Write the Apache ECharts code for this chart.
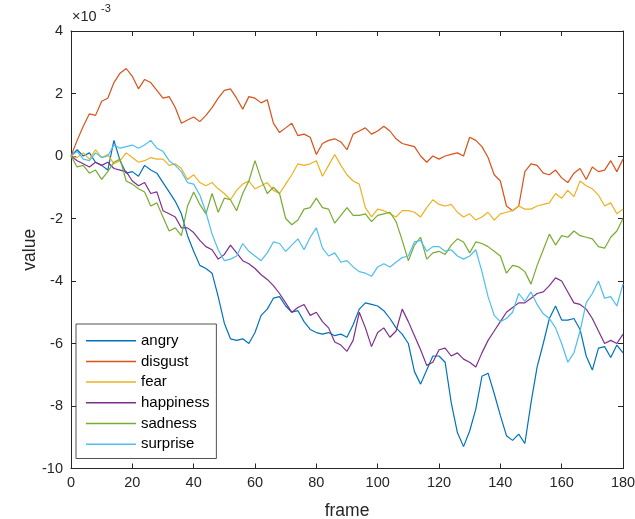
<!DOCTYPE html>
<html>
<head>
<meta charset="utf-8">
<script src="https://cdn.jsdelivr.net/npm/echarts@6/dist/echarts.min.js"></script>
<style>
html,body{margin:0;padding:0;background:#fff;}
#main{width:635px;height:519px;}
</style>
</head>
<body>
<div id="main"></div>
<script>
// values are in units of 1e-3 (axis shows x10^-3)
var names = ['angry', 'disgust', 'fear', 'happiness', 'sadness', 'surprise']
var colors = ['#0072BD', '#D95319', '#EDB120', '#7E2F8E', '#77AC30', '#4DBEEE']
var xTicks = [0, 20, 40, 60, 80, 100, 120, 140, 160, 180]
var yTicks = [-10, -8, -6, -4, -2, 0, 2, 4]

// frame numbers, read every 2 frames
var frames = []
for (var f = 0; f <= 180; f += 2) frames.push(f)

var angry = [0, 0.2, 0.0, 0.1, -0.2, -0.3, -0.45, 0.5, -0.15, -0.55,
    -0.5, -0.65, -0.3, -0.45, -0.55, -0.85, -1.15, -1.45, -1.85, -2.55,
    -3.05, -3.5, -3.6, -3.75, -4.5, -5.35, -5.85, -5.9, -5.85, -6.0,
    -5.65, -5.1, -4.9, -4.55, -4.5, -4.8, -5.0, -4.95, -5.3, -5.55,
    -5.65, -5.7, -5.65, -5.75, -5.7, -5.8, -5.4, -4.9, -4.7, -4.75,
    -4.8, -4.95, -5.2, -5.5, -5.7, -6.0, -6.9, -7.3, -6.85, -6.4,
    -6.4, -6.6, -7.9, -8.85, -9.3, -8.8, -8.1, -7.05, -6.95, -7.6,
    -8.3, -8.95, -9.1, -8.9, -9.2, -7.9, -6.75, -6.0, -5.2, -4.8,
    -5.25, -5.25, -5.2, -5.55, -6.4, -6.85, -6.15, -6.1, -6.45, -6.05,
    -6.3]
var disgust = [0, 0.5, 0.95, 1.35, 1.3, 1.75, 1.85, 2.35, 2.65, 2.8,
    2.55, 2.15, 2.45, 2.35, 2.1, 1.85, 1.9, 1.55, 1.05, 1.15,
    1.25, 1.1, 1.3, 1.55, 1.85, 2.1, 2.15, 1.85, 1.5, 1.9,
    1.85, 1.7, 1.8, 1.05, 0.75, 0.9, 1.05, 0.65, 0.7, 0.6,
    0.05, 0.4, 0.5, 0.55, 0.45, 0.2, 0.7, 0.8, 0.9, 0.7,
    0.8, 0.95, 0.8, 0.55, 0.4, 0.35, 0.3, 0.0, -0.2, 0.0,
    -0.1, 0.0, 0.05, 0.1, 0.0, 0.6, 0.5, 0.3, -0.05, -0.6,
    -0.8, -1.6, -1.75, -1.6, -0.5, -0.25, -0.3, -0.55, -0.6, -0.45,
    -0.7, -0.85, -0.55, -0.4, -0.75, -0.35, -0.5, -0.45, -0.15, -0.5,
    -0.1]
var fear = [0, -0.05, 0.1, -0.1, 0.2, -0.05, 0.05, -0.25, -0.15, 0.1,
    -0.05, -0.2, -0.15, -0.05, -0.1, -0.1, -0.3, -0.25, -0.4, -0.75,
    -0.6, -0.85, -0.95, -0.85, -1.05, -1.2, -1.4, -1.1, -0.9, -0.8,
    -1.05, -0.95, -0.85, -1.1, -1.2, -0.9, -0.6, -0.25, -0.3, -0.25,
    -0.15, -0.65, -0.3, 0.05, -0.3, -0.6, -0.8, -0.9, -1.65, -1.95,
    -1.7, -1.75, -1.85, -1.95, -1.75, -1.75, -1.8, -1.95, -1.65, -1.4,
    -1.55, -1.6, -1.55, -1.8, -1.95, -1.85, -2.05, -1.95, -1.8, -2.05,
    -1.85, -1.8, -1.75, -1.6, -1.7, -1.7, -1.6, -1.55, -1.5, -1.2,
    -1.35, -1.1, -1.3, -0.8, -0.95, -1.05, -1.25, -1.6, -1.5, -1.85,
    -1.7]
var happiness = [0, -0.15, -0.25, -0.35, -0.2, -0.3, -0.2, -0.4, -0.45, -0.5,
    -0.8, -0.95, -0.85, -1.2, -1.15, -1.75, -1.85, -1.95, -2.3, -2.3,
    -2.45, -2.7, -2.9, -3.0, -3.3, -3.15, -2.85, -3.1, -3.35, -3.45,
    -3.6, -3.8, -3.95, -4.15, -4.4, -4.7, -5.0, -4.85, -4.75, -5.1,
    -5.0, -5.3, -5.5, -5.95, -6.05, -6.25, -5.9, -5.0, -5.5, -6.1,
    -5.65, -5.5, -5.8, -5.6, -4.9, -5.3, -5.75, -6.2, -6.7, -6.6,
    -6.2, -6.15, -6.4, -6.3, -6.5, -6.6, -6.75, -6.3, -5.9, -5.6,
    -5.3, -5.0, -4.85, -4.7, -4.7, -4.55, -4.4, -4.35, -4.15, -3.9,
    -4.0, -4.35, -4.7, -4.75, -4.9, -5.2, -5.6, -6.0, -5.9, -6.0,
    -5.7]
var sadness = [0, -0.35, -0.3, -0.55, -0.45, -0.75, -0.5, -0.2, -0.1, -0.8,
    -0.9, -1.05, -1.15, -1.6, -1.5, -1.95, -2.4, -2.3, -2.55, -1.6,
    -1.15, -1.55, -1.85, -1.2, -1.8, -1.35, -1.4, -1.75, -1.2, -0.8,
    -0.15, -0.75, -1.2, -1.0, -1.2, -2.0, -2.2, -2.05, -1.7, -1.65,
    -1.35, -1.65, -1.7, -2.15, -1.9, -1.65, -1.9, -1.9, -1.85, -2.1,
    -1.9, -1.85, -1.8, -2.1, -2.7, -3.35, -2.85, -2.6, -3.3, -3.1,
    -3.05, -3.15, -2.85, -2.65, -2.75, -3.1, -2.75, -2.8, -2.9, -3.05,
    -3.2, -3.75, -3.5, -3.55, -3.7, -4.1, -3.5, -3.0, -2.5, -2.85,
    -2.55, -2.6, -2.4, -2.55, -2.6, -2.65, -2.9, -2.95, -2.6, -2.4,
    -2.0]
var surprise = [0, 0.15, -0.1, -0.15, 0.1, -0.05, 0.0, 0.35, 0.25, 0.3,
    0.35, 0.25, 0.35, 0.5, 0.25, 0.15, -0.15, -0.3, -0.5, -0.85,
    -0.9, -1.25, -1.8, -2.5, -3.0, -3.35, -3.3, -3.2, -2.8, -3.05,
    -3.2, -3.35, -3.1, -2.75, -2.8, -3.05, -2.85, -2.65, -3.0, -2.6,
    -2.3, -2.95, -3.2, -3.1, -3.4, -3.35, -3.55, -3.7, -3.75, -3.85,
    -3.55, -3.45, -3.55, -3.4, -3.25, -3.2, -2.75, -2.7, -3.05, -2.9,
    -2.9, -3.05, -3.0, -3.2, -3.3, -3.2, -3.0, -3.7, -4.5, -5.1,
    -5.3, -5.2, -5.0, -4.4, -4.65, -4.35, -4.75, -5.05, -5.2, -5.5,
    -6.0, -6.6, -6.3, -5.6, -4.7, -4.4, -4.0, -4.55, -4.5, -4.8,
    -4.1]

var values = [angry, disgust, fear, happiness, sadness, surprise]
var font = 'Liberation Sans, Arial, Helvetica, sans-serif'
var axisColor = '#262626'

var series = []
for (var i = 0; i < names.length; i++) {
    var pts = []
    for (var j = 0; j < frames.length; j++) {
        pts.push([frames[j], values[i][j]])
    }
    series.push({
        name: names[i],
        type: 'line',
        data: pts,
        symbol: 'none',
        animation: false,
        lineStyle: {width: 1.2, color: colors[i]},
        itemStyle: {color: colors[i]}
    })
}

var tickFmt = function (v) { return String(v) }

var myChart = echarts.init(document.getElementById('main'), null, {renderer: 'canvas'})

var option = {
    backgroundColor: '#fff',
    animation: false,
    // outerBoundsMode none: keep the plot box where it is, v6 would shrink it for the 180 label
    grid: {left: 71, right: 12, top: 31, bottom: 50.5, containLabel: false, outerBoundsMode: 'none'},
    xAxis: [{
        type: 'value', min: xTicks[0], max: xTicks[xTicks.length - 1], interval: 20,
        name: 'frame', nameLocation: 'middle', nameGap: 34,
        nameTextStyle: {fontFamily: font, fontSize: 17.5, color: axisColor},
        axisLine: {onZero: false, lineStyle: {color: axisColor, width: 1}},
        axisTick: {inside: true, length: 5, lineStyle: {color: axisColor}},
        axisLabel: {fontFamily: font, fontSize: 14.5, color: axisColor, margin: 7, formatter: tickFmt},
        splitLine: {show: false}
    }, {
        type: 'value', position: 'top', min: 0, max: 180, interval: 20,
        axisLine: {onZero: false, lineStyle: {color: axisColor, width: 1}},
        axisTick: {inside: true, length: 5, lineStyle: {color: axisColor}},
        axisLabel: {show: false},
        splitLine: {show: false}
    }],
    yAxis: [{
        type: 'value', min: yTicks[0], max: yTicks[yTicks.length - 1], interval: 2,
        name: 'value', nameLocation: 'middle', nameGap: 32, nameRotate: 90,
        nameMoveOverlap: false,
        nameTextStyle: {fontFamily: font, fontSize: 17.5, color: axisColor},
        axisLine: {show: true, onZero: false, lineStyle: {color: axisColor, width: 1}},
        axisTick: {show: true, inside: true, length: 5, lineStyle: {color: axisColor}},
        axisLabel: {fontFamily: font, fontSize: 14.5, color: axisColor, margin: 8, formatter: tickFmt},
        splitLine: {show: false}
    }, {
        type: 'value', position: 'right', min: -10, max: 4, interval: 2,
        axisLine: {show: true, onZero: false, lineStyle: {color: axisColor, width: 1}},
        axisTick: {show: true, inside: true, length: 5, lineStyle: {color: axisColor}},
        axisLabel: {show: false},
        splitLine: {show: false}
    }],
    legend: {
        data: names,
        orient: 'vertical',
        left: 76, top: 324,
        icon: 'rect',
        itemWidth: 50, itemHeight: 1.5, itemGap: 4.7,
        padding: [8.7, 7, 6.3, 10],
        borderColor: axisColor, borderWidth: 0.8,
        backgroundColor: '#fff',
        textStyle: {fontFamily: font, fontSize: 15, color: '#000', lineHeight: 16}
    },
    graphic: [
        //x10^-3 exponent above the y axis
        {type: 'text', left: 72, top: 9, style: {text: '\u00d710', fontFamily: font, fontSize: 14.5, fill: axisColor}},
        {type: 'text', left: 101, top: 3, style: {text: '-3', fontFamily: font, fontSize: 11, fill: axisColor}}
    ],
    series: series
}

myChart.setOption(option)
</script>
</body>
</html>
